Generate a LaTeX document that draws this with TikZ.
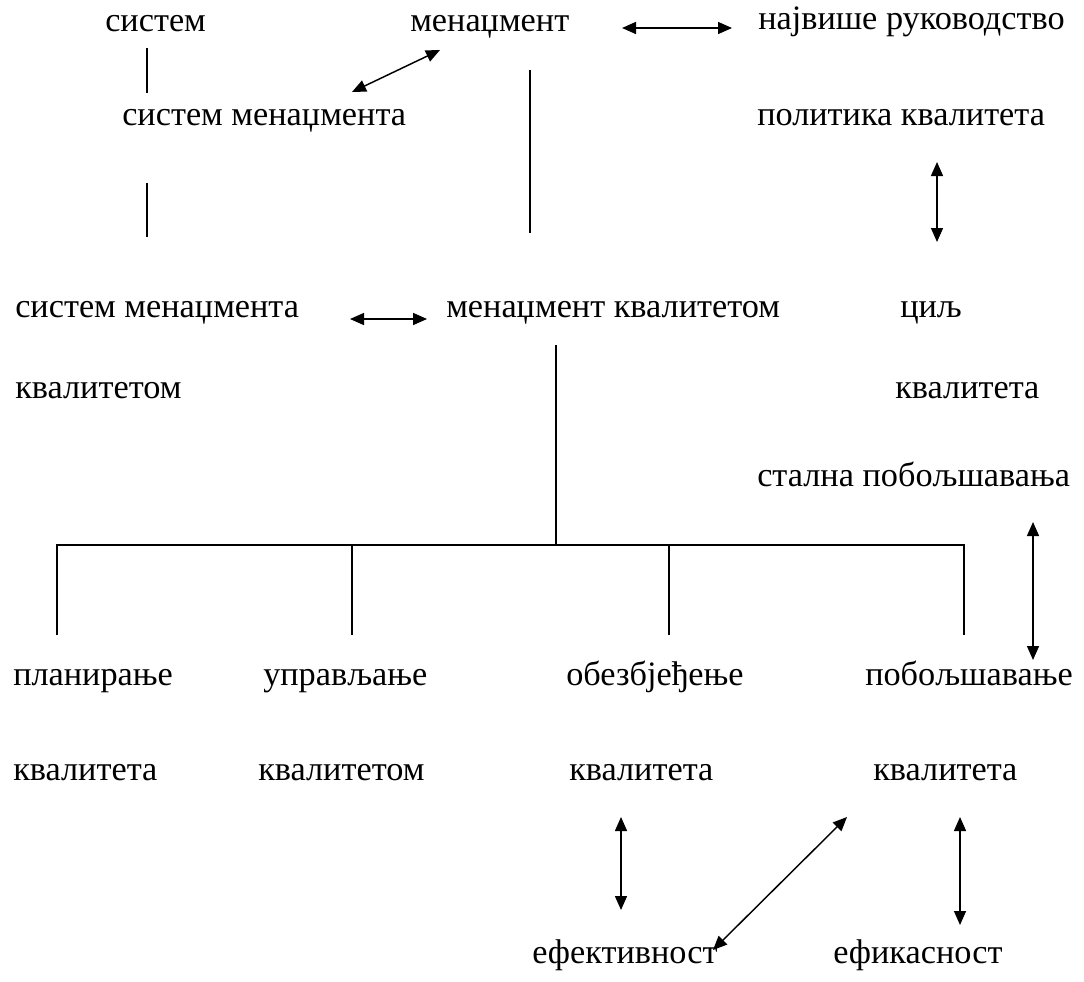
\documentclass[tikz,border=0pt]{standalone}
\usepackage{fontspec}
\setmainfont{Liberation Serif}
\usetikzlibrary{arrows.meta}

\begin{document}
\begin{tikzpicture}[
  x=0.75pt, y=-0.75pt,
  >={Triangle[length=10.5pt,width=9pt]},
  lbl/.style={inner sep=0pt, anchor=base west, font=\fontsize{25.7}{30}\selectfont},
  link/.style={line width=1.1pt},
  both/.style={<->, line width=1.1pt}
]
\useasboundingbox (0,0) rectangle (1084,981);

% upper part
\node[lbl] (sys) at (105,32) {систем};
\node[lbl] (men) at (410,32) {менаџмент};
\node[lbl] (top) at (758,30) {највише руководство};
\node[lbl] (sysmen) at (122,125) {систем менаџмента};
\node[lbl] (pol) at (757,125) {политика квалитета};

\node[lbl] (smk) at (15,317) {систем менаџмента};
\node[lbl] (smk2) at (15,398) {квалитетом};
\node[lbl] (mk) at (446,317) {менаџмент квалитетом};
\node[lbl] (goal) at (900,317) {циљ};
\node[lbl] (goal2) at (895,398) {квалитета};
\node[lbl] (cont) at (757,486) {стална побољшавања};

% the four branches
\node[lbl] (plan) at (13,685) {планирање};
\node[lbl] (ctrl) at (263,685) {управљање};
\node[lbl] (assur) at (566,685) {обезбјеђење};
\node[lbl] (impr) at (865,685) {побољшавање};
\node[lbl] (plan2) at (13,780) {квалитета};
\node[lbl] (ctrl2) at (258,780) {квалитетом};
\node[lbl] (assur2) at (569,780) {квалитета};
\node[lbl] (impr2) at (873,780) {квалитета};

\node[lbl] (eff) at (532,963) {ефективност};
\node[lbl] (effc) at (833,963) {ефикасност};

% line ends
\coordinate (a1) at (147,48);   \coordinate (a2) at (147,93);
\coordinate (b1) at (147,183);  \coordinate (b2) at (147,237);
\coordinate (c1) at (530,70);   \coordinate (c2) at (530,233);
\coordinate (d1) at (352,92);   \coordinate (d2) at (440,50);
\coordinate (e1) at (622,28);   \coordinate (e2) at (732,28);
\coordinate (f1) at (937,162);  \coordinate (f2) at (937,242);
\coordinate (g1) at (350,319);  \coordinate (g2) at (427,319);
\coordinate (h1) at (556,345);  \coordinate (h2) at (556,545);
\coordinate (k1) at (1033,522); \coordinate (k2) at (1033,660);
\coordinate (m1) at (621,817);  \coordinate (m2) at (621,910);
\coordinate (n1) at (713,950);  \coordinate (n2) at (847,817);
\coordinate (p1) at (960,817);  \coordinate (p2) at (960,925);

\draw[link] (a1) -- (a2);
\draw[link] (b1) -- (b2);
\draw[link] (c1) -- (c2);
\draw[both] (d1) -- (d2);
\draw[both] (e1) -- (e2);
\draw[both] (f1) -- (f2);
\draw[both] (g1) -- (g2);

% tree below менаџмент квалитетом
\draw[link] (h1) -- (h2);
\draw[link] (57,635) -- (57,545) -- (964,545) -- (964,635);
\foreach \x in {352,669} \draw[link] (\x,545) -- (\x,635);

\draw[both] (k1) -- (k2);
\draw[both] (m1) -- (m2);
\draw[both] (n1) -- (n2);
\draw[both] (p1) -- (p2);
\end{tikzpicture}
\end{document}
